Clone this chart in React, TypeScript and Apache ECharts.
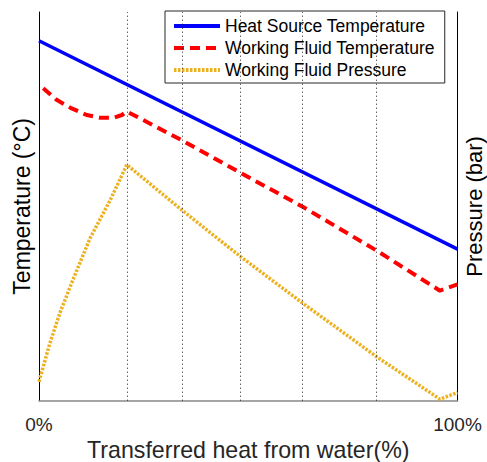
import React, { useEffect, useRef } from "react";
import * as echarts from "echarts";

// x positions (% of transferred heat)
const heatX = [0, 100];
const heatSourceTemp = [92.6, 39.0];

const fluidX = [1.0, 4.2, 7.8, 11.4, 14.6, 17.8, 19.8, 21.0, 34.3, 48.0, 63.0, 80.7, 95.8, 100];
const fluidTemp = [80.4, 77.4, 75.2, 73.5, 72.8, 72.8, 73.5, 74.4, 66.9, 58.7, 49.9, 38.6, 28.3, 29.9];

const pressureX = [0, 2.6, 5.0, 8.1, 12.2, 17.0, 21.0, 34.3, 48.0, 63.0, 80.7, 95.8, 100];
const pressure = [4.9, 14.8, 22.6, 31.1, 41.8, 51.6, 60.7, 48.9, 37.2, 25.1, 11.3, 0.4, 2.1];

const stagePositions = [21.0, 34.3, 48.0, 63.0, 80.5];

const xTicks = ["0%", "100%"];
const seriesNames = ["Heat Source Temperature", "Working Fluid Temperature", "Working Fluid Pressure"];

const FONT = "'Liberation Sans', Arial, Helvetica, sans-serif";

export default function App() {
  const ref = useRef<HTMLDivElement>(null);
  useEffect(() => {
    if (!ref.current) return;
    const chart = echarts.init(ref.current, undefined, { renderer: "svg" });
    const zip = (xs: number[], ys: number[]) => xs.map((x, i) => [x, ys[i]]);
    chart.setOption({
      animation: false,
      backgroundColor: "#ffffff",
      textStyle: { fontFamily: FONT },
      grid: {
        left: 39,
        right: 29.5,
        top: 12,
        bottom: 61.3,
        containLabel: false,
        outerBoundsMode: "none",
      },
      legend: {
        orient: "vertical",
        left: 165,
        top: 11,
        padding: [5, 10, 3, 7],
        itemWidth: 46,
        itemHeight: 14,
        itemGap: 2,
        backgroundColor: "#ffffff",
        borderColor: "#262626",
        borderWidth: 1,
        borderRadius: 0,
        data: seriesNames,
        itemStyle: { opacity: 0 },
        lineStyle: { width: 4 },
        textStyle: { fontSize: 17.5, color: "#000", fontFamily: FONT, lineHeight: 20 },
        selectedMode: false,
      },
      xAxis: {
        type: "value",
        min: 0,
        max: 100,
        interval: 100,
        axisLine: { show: true, lineStyle: { color: "#888888", width: 1.5 } },
        axisTick: { show: false },
        splitLine: { show: false },
        axisLabel: {
          fontSize: 19,
          color: "#262626",
          margin: 14,
          fontFamily: FONT,
          formatter: (v: number) => (v === 0 ? xTicks[0] : v === 100 ? xTicks[1] : ""),
        },
        name: "Transferred heat from water(%)",
        nameLocation: "middle",
        nameGap: 38,
        nameTextStyle: { fontSize: 23.2, color: "#262626", fontFamily: FONT },
      },
      yAxis: [
        {
          type: "value",
          min: 0,
          max: 100,
          position: "left",
          axisLine: { show: true, lineStyle: { color: "#000", width: 1 } },
          axisTick: { show: false },
          axisLabel: { show: false },
          splitLine: { show: false },
          name: "Temperature (°C)",
          nameLocation: "middle",
          nameRotate: 90,
          nameGap: 6,
          nameTextStyle: { fontSize: 23, color: "#000", fontFamily: FONT },
        },
        {
          type: "value",
          min: 0,
          max: 100,
          position: "right",
          axisLine: { show: true, lineStyle: { color: "#000", width: 1 } },
          axisTick: { show: false },
          axisLabel: { show: false },
          splitLine: { show: false },
          name: "Pressure (bar)",
          nameLocation: "middle",
          nameRotate: 90,
          nameGap: 6,
          nameTextStyle: { fontSize: 22, color: "#000", fontFamily: FONT },
        },
      ],
      series: [
        {
          name: seriesNames[0],
          type: "line",
          yAxisIndex: 0,
          data: zip(heatX, heatSourceTemp),
          showSymbol: false,
          symbol: "none",
          lineStyle: { color: "#0000ff", width: 3.5 },
          itemStyle: { color: "#0000ff" },
          silent: true,
          markLine: {
            silent: true,
            symbol: ["none", "none"],
            label: { show: false },
            lineStyle: { color: "#222222", width: 1, type: [1, 3] },
            emphasis: { disabled: true },
            data: stagePositions.map((v) => ({ xAxis: v })),
          },
        },
        {
          name: seriesNames[1],
          type: "line",
          yAxisIndex: 0,
          data: zip(fluidX, fluidTemp),
          showSymbol: false,
          symbol: "none",
          lineStyle: { color: "#ff0000", width: 4, type: [10, 6] },
          itemStyle: { color: "#ff0000" },
          silent: true,
        },
        {
          name: seriesNames[2],
          type: "line",
          yAxisIndex: 1,
          data: zip(pressureX, pressure),
          showSymbol: false,
          symbol: "none",
          lineStyle: { color: "#EDB120", width: 3.5, type: [2.5, 1.5] },
          itemStyle: { color: "#EDB120" },
          silent: true,
        },
      ],
    });
    return () => chart.dispose();
  }, []);
  return (
    <div
      ref={ref}
      style={{ position: "fixed", left: 0, top: 0, width: 487, height: 462, background: "#fff" }}
    />
  );
}
